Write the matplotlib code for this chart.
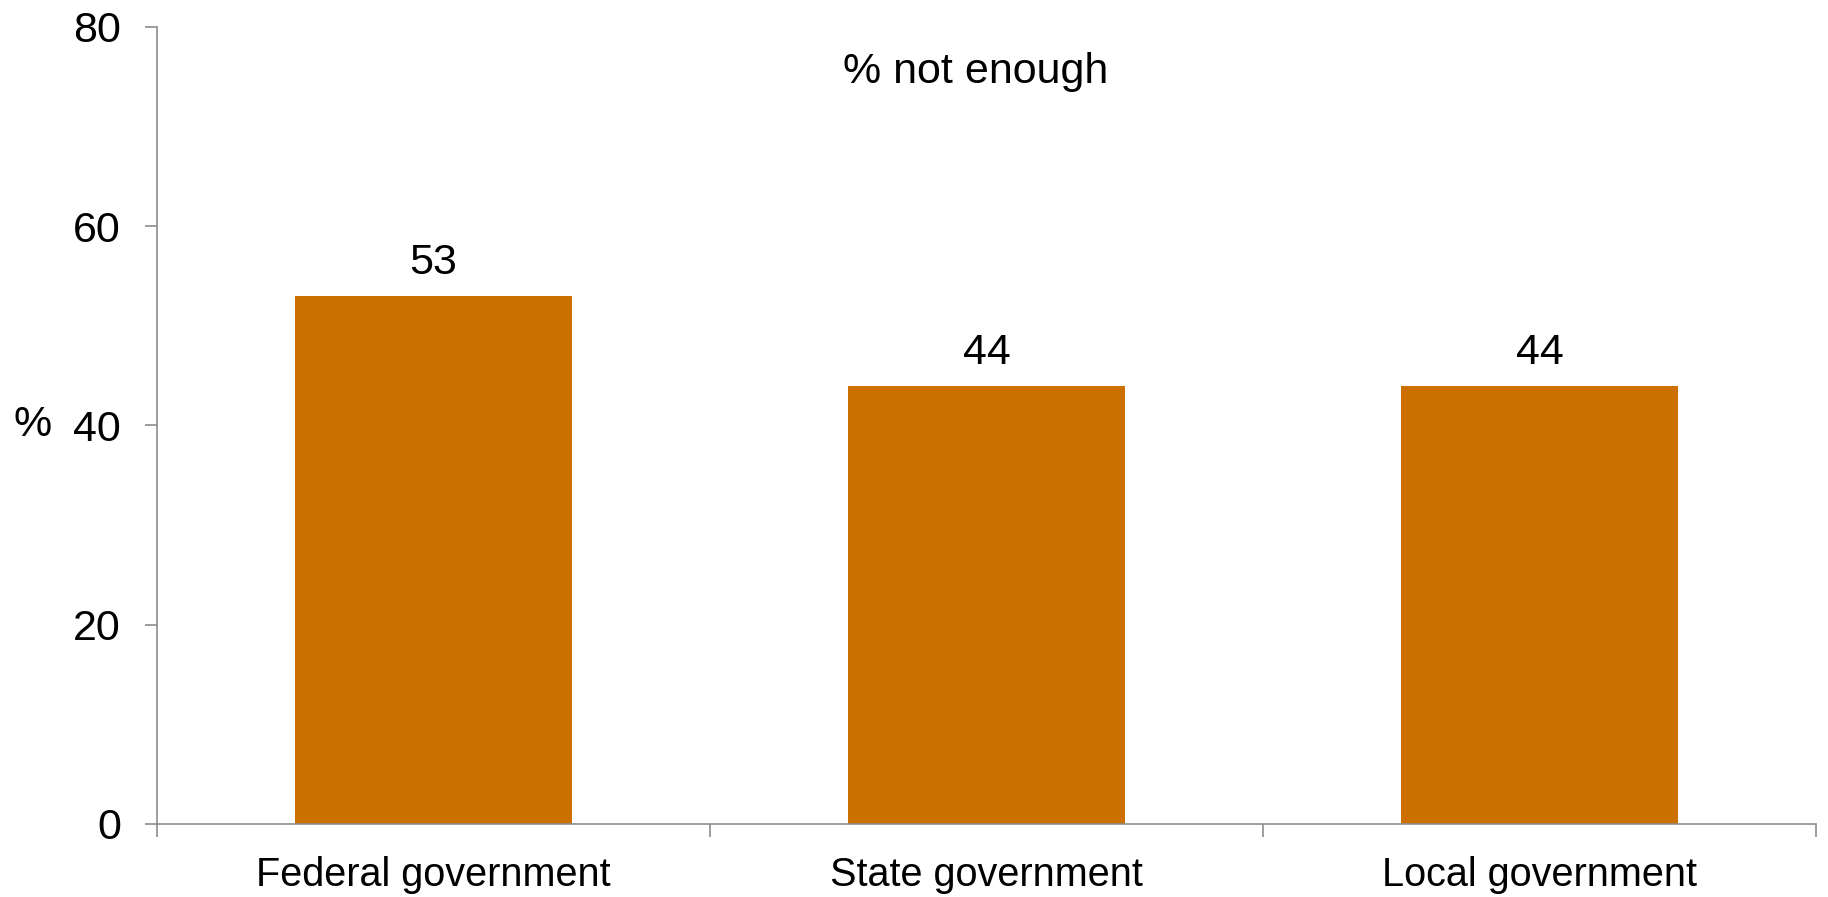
import numpy as np
import matplotlib.pyplot as plt

plt.rcParams['font.family'] = ['Liberation Sans', 'DejaVu Sans']

categories = ["Federal government", "State government", "Local government"]
not_enough = [53, 44, 44]
yticks = [0, 20, 40, 60, 80]

bar_color = "#cc7000"
axis_color = "#8c8c8c"

fig = plt.figure(figsize=(18.28, 8.97), dpi=100)
ax = fig.add_axes([0.0859, 0.0814, 0.9075, 0.8885])

x = np.arange(len(categories))
bars = ax.bar(x, not_enough, width=0.5, color=bar_color, zorder=2)

for rect, val in zip(bars, not_enough):
    ax.annotate(str(val), (rect.get_x() + rect.get_width() / 2, rect.get_height()),
                xytext=(0, 9), textcoords="offset points",
                ha="center", va="bottom", fontsize=31)

ax.set_xlim(-0.5, len(categories) - 0.5)
ax.set_ylim(0, 80)
ax.set_yticks(yticks)

# category ticks sit between bars, labels under bar centres
ax.set_xticks(np.arange(-0.5, len(categories)), minor=False)
ax.set_xticklabels([""] * (len(categories) + 1))
ax.set_xticks(x, minor=True)
ax.set_xticklabels(categories, minor=True)
ax.tick_params(axis="x", which="minor", length=0, pad=23, labelsize=28.5)
ax.tick_params(axis="x", which="major", length=9, width=1.2, color=axis_color, direction="out")
ax.tick_params(axis="y", length=9, width=1.2, color=axis_color, pad=17, labelsize=31)

for side in ["top", "right"]:
    ax.spines[side].set_visible(False)
for side in ["left", "bottom"]:
    ax.spines[side].set_color(axis_color)
    ax.spines[side].set_linewidth(1.2)

ax.set_ylabel("%", rotation=0, fontsize=31, va="center")
ax.yaxis.set_label_coords(-0.075, 0.5)

ax.text(0.98, 75.5, "% not enough", ha="center", va="center", fontsize=31)

fig.savefig("out.png", dpi=100)
